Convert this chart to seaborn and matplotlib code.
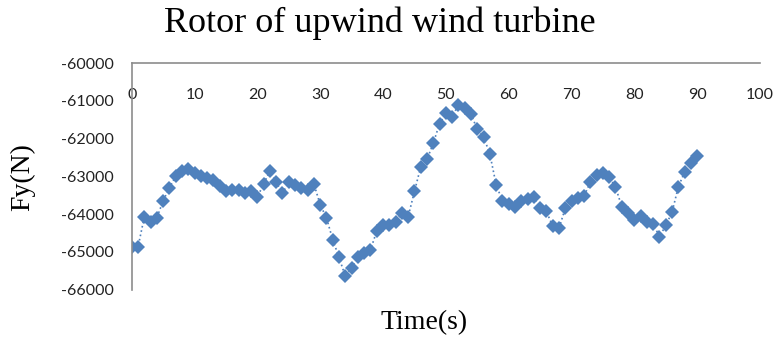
import matplotlib
matplotlib.use("Agg")
import matplotlib.pyplot as plt
import seaborn as sns
import pandas as pd

time_s = list(range(0, 91))
fy_n = [
    -64860, -64880, -64080, -64200, -64100, -63650, -63300, -63000, -62850, -62800,
    -62900, -63000, -63050, -63100, -63250, -63400, -63350, -63350, -63450, -63400,
    -63550, -63200, -62850, -63150, -63450, -63150, -63230, -63310, -63360, -63200,
    -63750, -64100, -64680, -65150, -65650, -65430, -65130, -65030, -64950, -64450,
    -64300, -64280, -64200, -63980, -64070, -63400, -62750, -62550, -62120, -61600,
    -61330, -61420, -61100, -61190, -61350, -61750, -61950, -62400, -63220, -63650,
    -63720, -63800, -63650, -63600, -63550, -63850, -63930, -64320, -64380, -63850,
    -63640, -63570, -63520, -63150, -62950, -62920, -63020, -63280, -63800, -63980,
    -64150, -64050, -64200, -64250, -64600, -64300, -63950, -63280, -62880, -62650,
    -62450,
]
x_ticks = [0, 10, 20, 30, 40, 50, 60, 70, 80, 90, 100]
y_ticks = [-66000, -65000, -64000, -63000, -62000, -61000, -60000]
title = "Rotor of upwind wind turbine"
x_label = "Time(s)"
y_label = "Fy(N)"

sns.set_theme(style="white")
plt.rcParams["axes.unicode_minus"] = False
plt.rcParams["font.family"] = ["Lato", "DejaVu Sans"]

df = pd.DataFrame({"t": time_s, "fy": fy_n})

fig = plt.figure(figsize=(7.77, 3.38), dpi=100)
ax = fig.add_axes([131.7 / 777, 1 - 289.5 / 338, (760 - 131.7) / 777, (289.5 - 63.3) / 338])

color = "#4F81BD"
sns.lineplot(data=df, x="t", y="fy", ax=ax, color=color, linestyle=":", linewidth=1.2,
             marker="D", markersize=7.3, markeredgewidth=0, markerfacecolor=color)

ax.set_xlim(0, 100)
ax.set_ylim(-66000, -60000)
ax.set_xticks(x_ticks)
ax.set_yticks(y_ticks)
ax.set_xticklabels([str(v) for v in x_ticks])
ax.set_yticklabels([str(v) for v in y_ticks])

ax.xaxis.tick_top()
ax.tick_params(axis="x", which="both", length=0, labelsize=11.5, pad=-28, labelcolor="#222222")
ax.tick_params(axis="y", which="both", length=0, labelsize=11.5, pad=13, labelcolor="#222222")

for side in ["bottom", "right"]:
    ax.spines[side].set_visible(False)
for side in ["left", "top"]:
    ax.spines[side].set_visible(True)
    ax.spines[side].set_color("#8c8c8c")
    ax.spines[side].set_linewidth(1.2)

ax.set_xlabel("")
ax.set_ylabel("")
ax.grid(False)

serif = ["Liberation Serif", "DejaVu Serif"]
fig.text(380 / 777, 1 - 23 / 338, title, ha="center", va="center", fontsize=26, family=serif, color="black")
fig.text(424 / 777, 1 - 323 / 338, x_label, ha="center", va="center", fontsize=20, family=serif, color="black")
fig.text(23 / 777, 1 - 177 / 338, y_label, ha="center", va="center", rotation=90, fontsize=20, family=serif, color="black")

fig.savefig("out.png", dpi=100)
